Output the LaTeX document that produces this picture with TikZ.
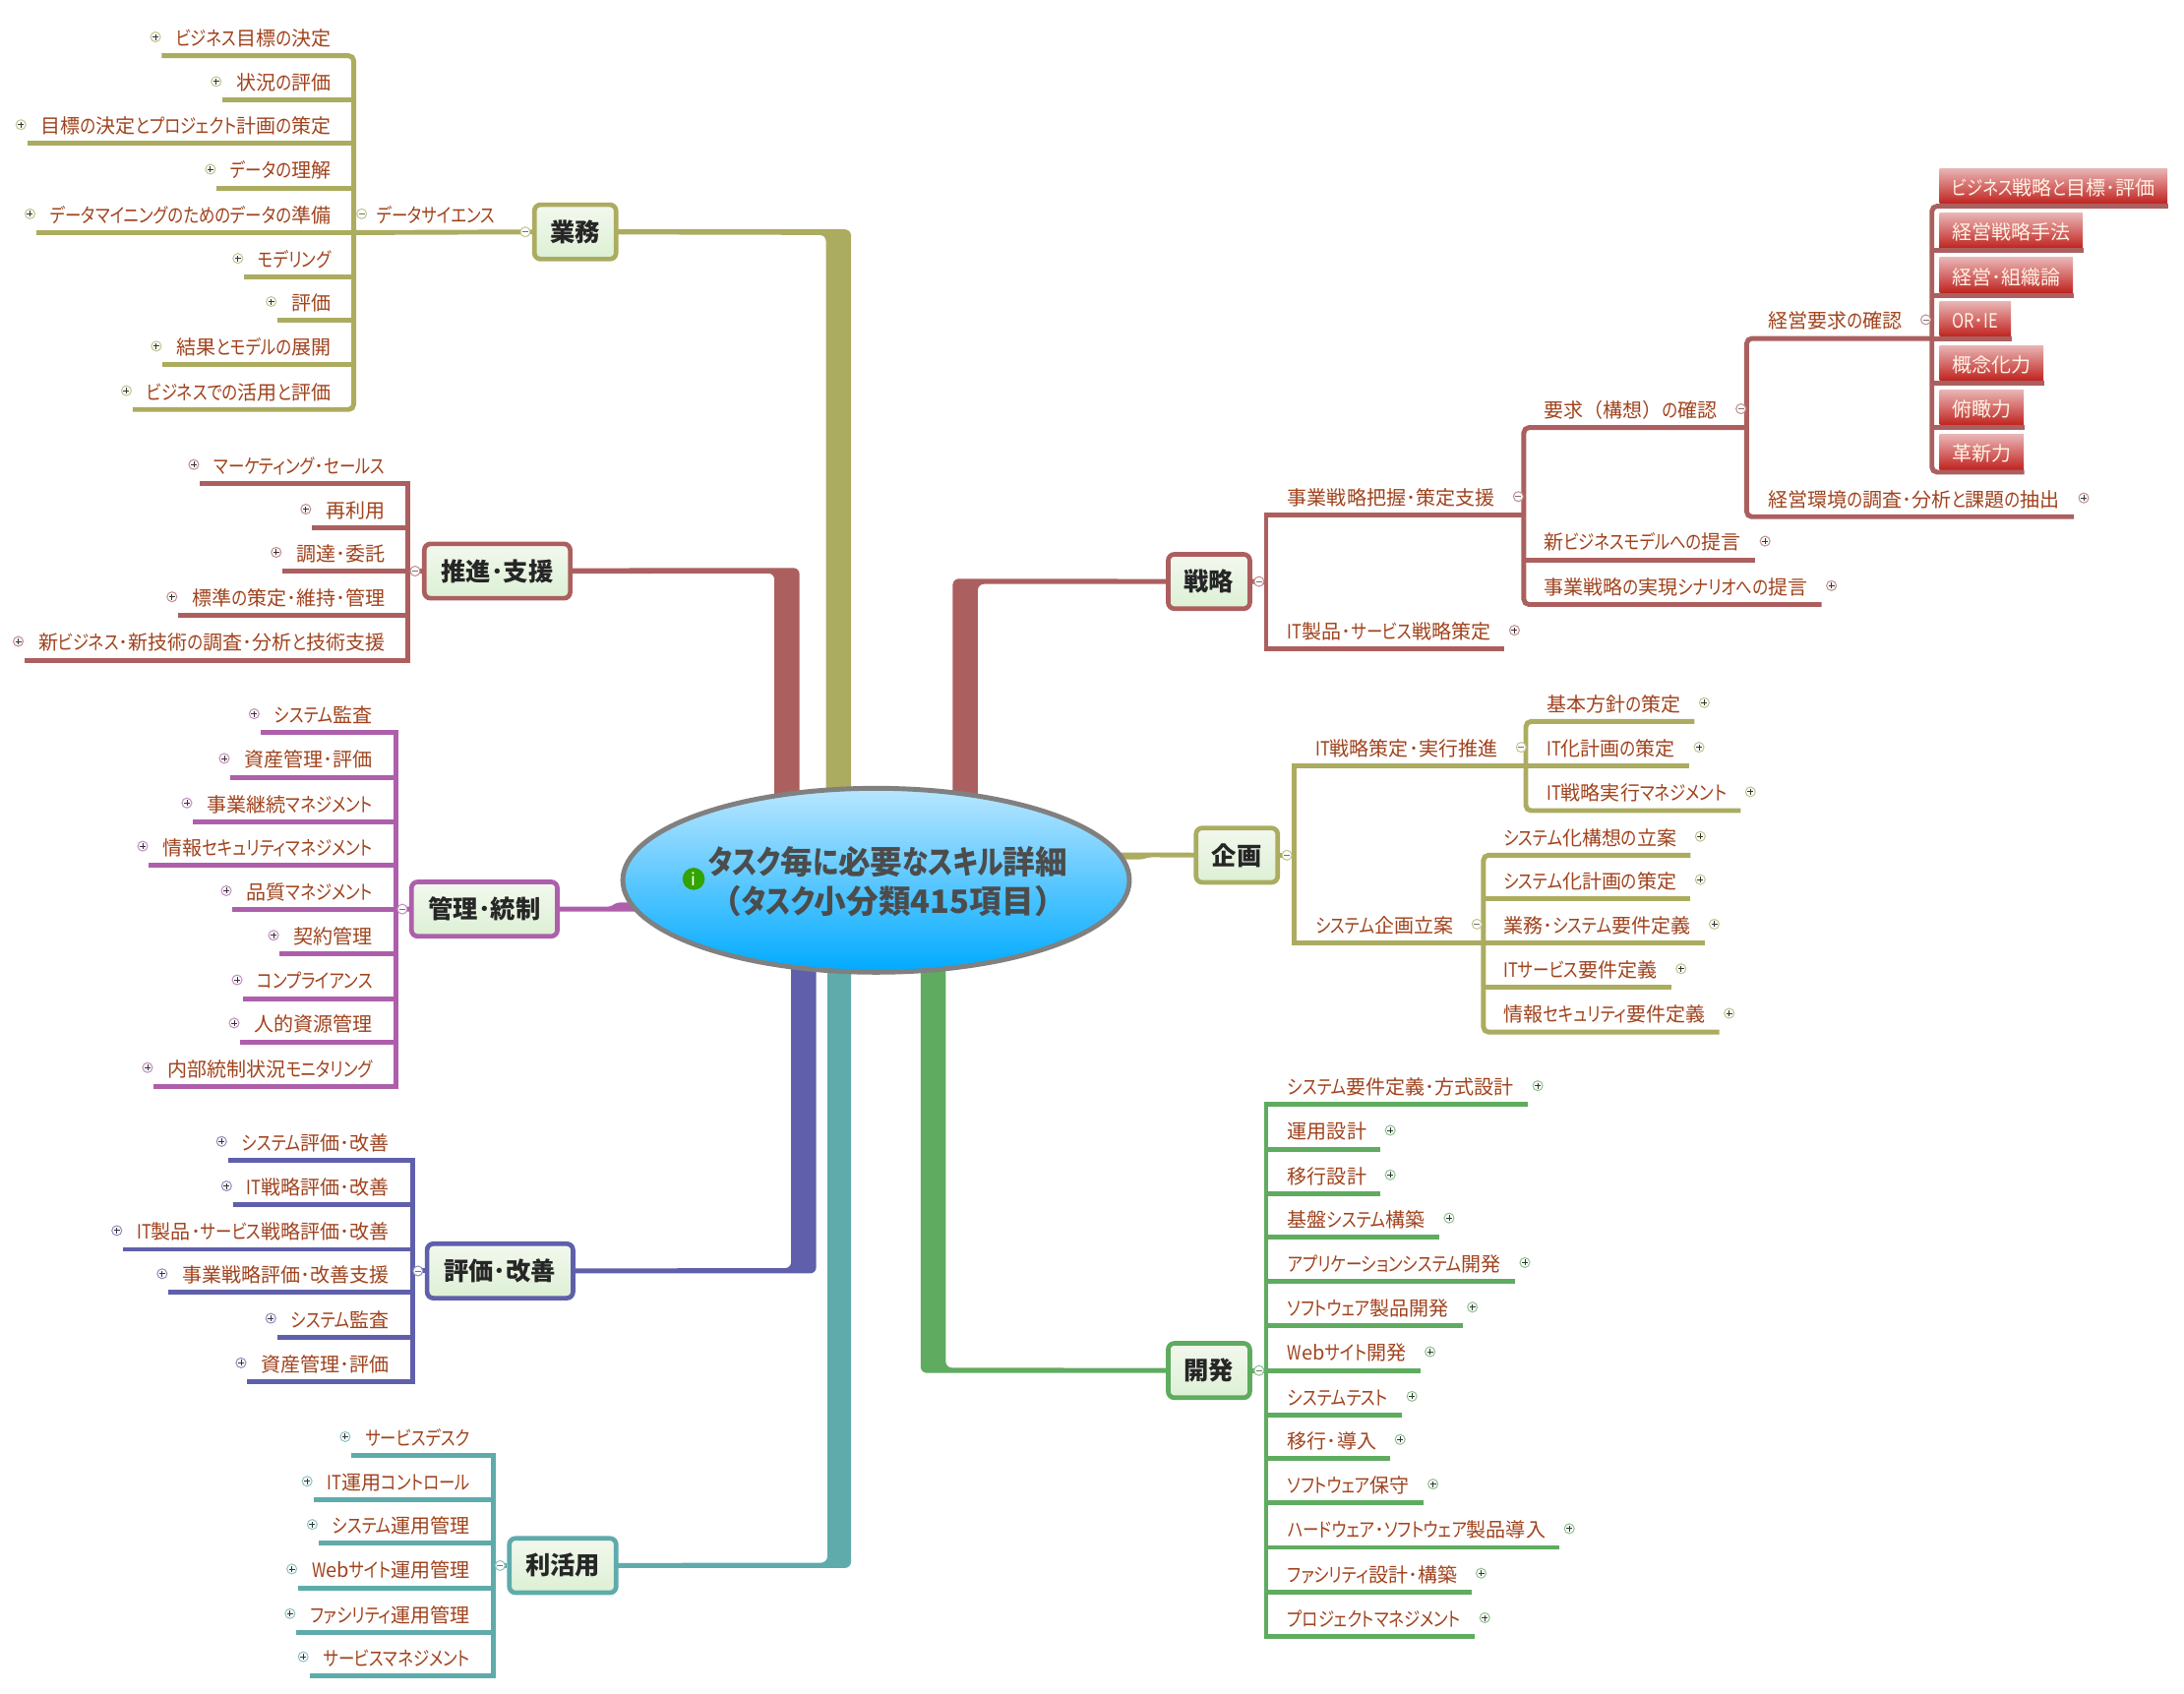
\documentclass[tikz,border=0pt]{standalone}
\usepackage{fontspec}
\setmainfont{Noto Sans CJK JP}
\newfontfamily\kanafam[RawFeature={+palt},FakeStretch=.82]{Noto Sans CJK JP}
\usetikzlibrary{shapes,backgrounds}
\newXeTeXintercharclass\kanaclass
\count255="3041
\loop\ifnum\count255<"30FF \XeTeXcharclass\count255=\kanaclass \advance\count255 by 1 \repeat
\count255="41
\loop\ifnum\count255<"5B \XeTeXcharclass\count255=\kanaclass \advance\count255 by 1 \repeat
\XeTeXinterchartokenstate=1
\XeTeXinterchartoks 0 \kanaclass={\kanafam}
\XeTeXinterchartoks 4095 \kanaclass={\kanafam}
\XeTeXinterchartoks \kanaclass 0={\rmfamily}
\XeTeXinterchartoks \kanaclass 4095={\rmfamily}
\definecolor{olivebr}{HTML}{ABAC5F}
\definecolor{redbr}{HTML}{AC5F5F}
\definecolor{purplebr}{HTML}{AE5FAB}
\definecolor{indigobr}{HTML}{5F5FAB}
\definecolor{tealbr}{HTML}{5FABAB}
\definecolor{greenbr}{HTML}{5FAB5F}
\definecolor{leaftxt}{HTML}{A0421C}
\definecolor{topictop}{HTML}{F3F8EE}
\definecolor{topicbot}{HTML}{DCF0D4}
\definecolor{skytop}{HTML}{B8E6FF}
\definecolor{skybot}{HTML}{00AAFF}
\definecolor{pinktop}{HTML}{E9B4B4}
\definecolor{pinkbot}{HTML}{C02420}
\begin{document}
\begin{tikzpicture}[x=0.014158cm,y=-0.014158cm]
\tikzstyle{every node}+=[inner sep=0pt]
\tikzstyle{leaf}=[text=leaftxt,font=\fontsize{5.7}{7}\selectfont,inner xsep=.1345cm,inner ysep=0pt,text height=.273cm,text depth=.095cm]
\tikzstyle{leafl}=[leaf,anchor=south east,xshift=.014cm]
\tikzstyle{leafr}=[leaf,anchor=south west]
\tikzstyle{lf}=[line width=1.4pt]
\tikzstyle{topic}=[draw,line width=1.33pt,rounded corners=1.8pt,top color=topictop,bottom color=topicbot,minimum width=.83cm,minimum height=.553cm,text=black!85,font=\fontsize{7.2}{8}\selectfont\bfseries]
\tikzstyle{redbox}=[anchor=south west,outer ysep=.028cm,inner xsep=.127cm,minimum height=.354cm,top color=pinktop,bottom color=pinkbot,text=white!90!orange,text height=.22cm,text depth=.03cm,font=\fontsize{5.7}{7}\selectfont]
\tikzstyle{tgl}=[circle,fill=white,minimum size=.1cm,line width=.3pt]
\tikzstyle{tplus}=[tgl,path picture={\draw [black!80,line width=.25pt] ([xshift=-.03cm]path picture bounding box.center) -- ([xshift=.03cm]path picture bounding box.center) ([yshift=-.03cm]path picture bounding box.center) -- ([yshift=.03cm]path picture bounding box.center);}]
\tikzstyle{tminus}=[tgl,path picture={\draw [black!55,line width=.25pt] ([xshift=-.03cm]path picture bounding box.center) -- ([xshift=.03cm]path picture bounding box.center);}]
\useasboundingbox (0,0) rectangle (1568,1215.6);
\node [ellipse,draw=black!50,line width=1.4pt,top color=skytop,bottom color=skybot,minimum width=5.15cm,minimum height=1.87cm] (root) at (629,632) {};
\node [align=center,text=black!70,font=\fontsize{9.3}{11.6}\selectfont\bfseries] (rootl) at (637.5,633) {タスク毎に必要なスキル詳細\\（タスク小分類415項目）};
\node [circle,fill=green!55!black!80!yellow,text=white,minimum size=.226cm,font=\fontsize{5}{6}\selectfont] (rooti) at (498,631) {i};
\node [topic,draw=olivebr] (gyomu) at (413,166.5) {業務};
\node [topic,draw=redbr,minimum width=1.483cm] (suishin) at (357,410) {推進･支援};
\node [topic,draw=purplebr,minimum width=1.483cm] (kanri) at (347.8,652.7) {管理･統制};
\node [topic,draw=indigobr,minimum width=1.483cm] (hyoka) at (359,912.5) {評価･改善};
\node [topic,draw=tealbr,minimum width=1.086cm] (rikatsu) at (404,1124) {利活用};
\node [topic,draw=greenbr] (kaihatsu) at (868,984) {開発};
\node [topic,draw=redbr] (senryaku) at (868,417.5) {戦略};
\node [topic,draw=olivebr] (kikaku) at (888,614) {企画};
\begin{scope}[on background layer]
\fill [olivebr,rounded corners=1.8pt] ([yshift=.025cm]gyomu.center) -- (611,164.7) -- (611,0 |- root) -- (593,0 |- root) -- (593,168.7) -- ([yshift=-.025cm]gyomu.center) -- cycle;
\fill [redbr,rounded corners=1.8pt] ([yshift=.028cm]suishin.center) -- (574,407.7) -- (574,0 |- root) -- (556,0 |- root) -- (556,411.6) -- ([yshift=-.028cm]suishin.center) -- cycle;
\fill [redbr,rounded corners=1.8pt] ([yshift=.025cm]senryaku.center) -- (684,415.5) -- (684,0 |- root) -- (702,0 |- root) -- (702,419.3) -- ([yshift=-.025cm]senryaku.center) -- cycle;
\fill [indigobr,rounded corners=1.8pt] ([yshift=-.025cm]hyoka.center) -- (586,914.3) -- (586,0 |- root) -- (568,0 |- root) -- (568,910.5) -- ([yshift=.025cm]hyoka.center) -- cycle;
\fill [tealbr,rounded corners=1.8pt] ([yshift=-.025cm]rikatsu.center) -- (611,1125.8) -- (611,0 |- root) -- (594,0 |- root) -- (594,1122) -- ([yshift=.025cm]rikatsu.center) -- cycle;
\fill [greenbr,rounded corners=1.8pt] ([yshift=-.025cm]kaihatsu.center) -- (661,985.8) -- (661,0 |- root) -- (679,0 |- root) -- (679,982) -- ([yshift=.025cm]kaihatsu.center) -- cycle;
\fill [purplebr,rounded corners=.8pt] ([yshift=.025cm]kanri.center) -- (438,651) -- (443,648) -- (root.center |- 0,648) -- (root.center |- 0,654.6) -- ([yshift=-.025cm]kanri.center) -- cycle;
\fill [olivebr,rounded corners=.8pt] ([yshift=-.025cm]kikaku.center) -- (825,615.5) -- (820,617) -- (root.center |- 0,617) -- (root.center |- 0,611.8) -- ([yshift=.025cm]kikaku.center) -- cycle;
\end{scope}
\coordinate (gyt) at (254,167);
\node [leafl] (gy1) at (246.5,40) {ビジネス目標の決定};
\node [leafl] (gy2) at (246.5,72) {状況の評価};
\node [leafl] (gy3) at (246.5,103) {目標の決定とプロジェクト計画の策定};
\node [leafl] (gy4) at (246.5,135) {データの理解};
\node [leafl] (gy5) at (246.5,167) {データマイニングのためのデータの準備};
\node [leafl] (gy6) at (246.5,199) {モデリング};
\node [leafl] (gy7) at (246.5,230) {評価};
\node [leafl] (gy8) at (246.5,262) {結果とモデルの展開};
\node [leafl] (gy9) at (246.5,294) {ビジネスでの活用と評価};
\node [leafl] (gyd) at (364.5,167) {データサイエンス};
\draw [lf,olivebr,rounded corners=1.5pt] (gy1.south west) -| (gyt) |- (gy9.south west);
\draw [lf,olivebr] (gy2.south west) -- (gy2.south west -| gyt);
\draw [lf,olivebr] (gy3.south west) -- (gy3.south west -| gyt);
\draw [lf,olivebr] (gy4.south west) -- (gy4.south west -| gyt);
\draw [lf,olivebr] (gy5.south west) -- (gy5.south west -| gyt);
\draw [lf,olivebr] (gy6.south west) -- (gy6.south west -| gyt);
\draw [lf,olivebr] (gy7.south west) -- (gy7.south west -| gyt);
\draw [lf,olivebr] (gy8.south west) -- (gy8.south west -| gyt);
\draw [lf,olivebr] (gyomu.west) -- (gyt);
\node [tplus,draw=olivebr!70] (gy1t) at ([xshift=-.064cm]gy1.west) {};
\node [tplus,draw=olivebr!70] (gy2t) at ([xshift=-.064cm]gy2.west) {};
\node [tplus,draw=olivebr!70] (gy3t) at ([xshift=-.064cm]gy3.west) {};
\node [tplus,draw=olivebr!70] (gy4t) at ([xshift=-.064cm]gy4.west) {};
\node [tplus,draw=olivebr!70] (gy5t) at ([xshift=-.064cm]gy5.west) {};
\node [tplus,draw=olivebr!70] (gy6t) at ([xshift=-.064cm]gy6.west) {};
\node [tplus,draw=olivebr!70] (gy7t) at ([xshift=-.064cm]gy7.west) {};
\node [tplus,draw=olivebr!70] (gy8t) at ([xshift=-.064cm]gy8.west) {};
\node [tplus,draw=olivebr!70] (gy9t) at ([xshift=-.064cm]gy9.west) {};
\node [tminus,draw=olivebr!70] (gydt) at ([xshift=-.01cm]gyd.west) {};
\node [tminus,draw=olivebr!70] (gyot) at ([xshift=-.07cm]gyomu.west) {};
\coordinate (sut) at (293,410);
\node [leafl] (su1) at (285.5,347) {マーケティング･セールス};
\node [leafl] (su2) at (285.5,379) {再利用};
\node [leafl] (su3) at (285.5,410) {調達･委託};
\node [leafl] (su4) at (285.5,442) {標準の策定･維持･管理};
\node [leafl] (su5) at (285.5,474) {新ビジネス･新技術の調査･分析と技術支援};
\draw [lf,redbr] (su1.south west) -| (sut) |- (su5.south west);
\draw [lf,redbr] (su2.south west) -- (su2.south west -| sut);
\draw [lf,redbr] (su3.south west) -- (su3.south west -| sut);
\draw [lf,redbr] (su4.south west) -- (su4.south west -| sut);
\draw [lf,redbr] (suishin.west) -- (sut);
\node [tplus,draw=redbr!70] (su1t) at ([xshift=-.064cm]su1.west) {};
\node [tplus,draw=redbr!70] (su2t) at ([xshift=-.064cm]su2.west) {};
\node [tplus,draw=redbr!70] (su3t) at ([xshift=-.064cm]su3.west) {};
\node [tplus,draw=redbr!70] (su4t) at ([xshift=-.064cm]su4.west) {};
\node [tplus,draw=redbr!70] (su5t) at ([xshift=-.064cm]su5.west) {};
\node [tminus,draw=redbr!70] (suot) at ([xshift=-.07cm]suishin.west) {};
\coordinate (knt) at (284,653);
\node [leafl] (kn1) at (276.5,526) {システム監査};
\node [leafl] (kn2) at (276.5,558) {資産管理･評価};
\node [leafl] (kn3) at (276.5,590) {事業継続マネジメント};
\node [leafl] (kn4) at (276.5,621) {情報セキュリティマネジメント};
\node [leafl] (kn5) at (276.5,653) {品質マネジメント};
\node [leafl] (kn6) at (276.5,685) {契約管理};
\node [leafl] (kn7) at (276.5,717) {コンプライアンス};
\node [leafl] (kn8) at (276.5,748) {人的資源管理};
\node [leafl] (kn9) at (276.5,780) {内部統制状況モニタリング};
\draw [lf,purplebr] (kn1.south west) -| (knt) |- (kn9.south west);
\draw [lf,purplebr] (kn2.south west) -- (kn2.south west -| knt);
\draw [lf,purplebr] (kn3.south west) -- (kn3.south west -| knt);
\draw [lf,purplebr] (kn4.south west) -- (kn4.south west -| knt);
\draw [lf,purplebr] (kn5.south west) -- (kn5.south west -| knt);
\draw [lf,purplebr] (kn6.south west) -- (kn6.south west -| knt);
\draw [lf,purplebr] (kn7.south west) -- (kn7.south west -| knt);
\draw [lf,purplebr] (kn8.south west) -- (kn8.south west -| knt);
\draw [lf,purplebr] (kanri.west) -- (knt);
\node [tplus,draw=purplebr!70] (kn1t) at ([xshift=-.064cm]kn1.west) {};
\node [tplus,draw=purplebr!70] (kn2t) at ([xshift=-.064cm]kn2.west) {};
\node [tplus,draw=purplebr!70] (kn3t) at ([xshift=-.064cm]kn3.west) {};
\node [tplus,draw=purplebr!70] (kn4t) at ([xshift=-.064cm]kn4.west) {};
\node [tplus,draw=purplebr!70] (kn5t) at ([xshift=-.064cm]kn5.west) {};
\node [tplus,draw=purplebr!70] (kn6t) at ([xshift=-.064cm]kn6.west) {};
\node [tplus,draw=purplebr!70] (kn7t) at ([xshift=-.064cm]kn7.west) {};
\node [tplus,draw=purplebr!70] (kn8t) at ([xshift=-.064cm]kn8.west) {};
\node [tplus,draw=purplebr!70] (kn9t) at ([xshift=-.064cm]kn9.west) {};
\node [tminus,draw=purplebr!70] (knot) at ([xshift=-.07cm]kanri.west) {};
\coordinate (hyt) at (296,912.5);
\node [leafl] (hy1) at (288.5,833) {システム評価･改善};
\node [leafl] (hy2) at (288.5,865) {IT戦略評価･改善};
\node [leafl] (hy3) at (288.5,897) {IT製品･サービス戦略評価･改善};
\node [leafl] (hy4) at (288.5,928) {事業戦略評価･改善支援};
\node [leafl] (hy5) at (288.5,960) {システム監査};
\node [leafl] (hy6) at (288.5,992) {資産管理･評価};
\draw [lf,indigobr] (hy1.south west) -| (hyt) |- (hy6.south west);
\draw [lf,indigobr] (hy2.south west) -- (hy2.south west -| hyt);
\draw [lf,indigobr] (hy3.south west) -- (hy3.south west -| hyt);
\draw [lf,indigobr] (hy4.south west) -- (hy4.south west -| hyt);
\draw [lf,indigobr] (hy5.south west) -- (hy5.south west -| hyt);
\draw [lf,indigobr] (hyoka.west) -- (hyt);
\node [tplus,draw=indigobr!70] (hy1t) at ([xshift=-.064cm]hy1.west) {};
\node [tplus,draw=indigobr!70] (hy2t) at ([xshift=-.064cm]hy2.west) {};
\node [tplus,draw=indigobr!70] (hy3t) at ([xshift=-.064cm]hy3.west) {};
\node [tplus,draw=indigobr!70] (hy4t) at ([xshift=-.064cm]hy4.west) {};
\node [tplus,draw=indigobr!70] (hy5t) at ([xshift=-.064cm]hy5.west) {};
\node [tplus,draw=indigobr!70] (hy6t) at ([xshift=-.064cm]hy6.west) {};
\node [tminus,draw=indigobr!70] (hyot) at ([xshift=-.07cm]hyoka.west) {};
\coordinate (rit) at (354,1124);
\node [leafl] (ri1) at (346.5,1045) {サービスデスク};
\node [leafl] (ri2) at (346.5,1077) {IT運用コントロール};
\node [leafl] (ri3) at (346.5,1108) {システム運用管理};
\node [leafl] (ri4) at (346.5,1140) {Webサイト運用管理};
\node [leafl] (ri5) at (346.5,1172) {ファシリティ運用管理};
\node [leafl] (ri6) at (346.5,1203) {サービスマネジメント};
\draw [lf,tealbr] (ri1.south west) -| (rit) |- (ri6.south west);
\draw [lf,tealbr] (ri2.south west) -- (ri2.south west -| rit);
\draw [lf,tealbr] (ri3.south west) -- (ri3.south west -| rit);
\draw [lf,tealbr] (ri4.south west) -- (ri4.south west -| rit);
\draw [lf,tealbr] (ri5.south west) -- (ri5.south west -| rit);
\draw [lf,tealbr] (rikatsu.west) -- (rit);
\node [tplus,draw=tealbr!70] (ri1t) at ([xshift=-.064cm]ri1.west) {};
\node [tplus,draw=tealbr!70] (ri2t) at ([xshift=-.064cm]ri2.west) {};
\node [tplus,draw=tealbr!70] (ri3t) at ([xshift=-.064cm]ri3.west) {};
\node [tplus,draw=tealbr!70] (ri4t) at ([xshift=-.064cm]ri4.west) {};
\node [tplus,draw=tealbr!70] (ri5t) at ([xshift=-.064cm]ri5.west) {};
\node [tplus,draw=tealbr!70] (ri6t) at ([xshift=-.064cm]ri6.west) {};
\node [tminus,draw=tealbr!70] (riot) at ([xshift=-.07cm]rikatsu.west) {};
\coordinate (kht) at (909,984);
\node [leafr] (kh1) at (914.5,793) {システム要件定義･方式設計};
\node [leafr] (kh2) at (914.5,825) {運用設計};
\node [leafr] (kh3) at (914.5,857) {移行設計};
\node [leafr] (kh4) at (914.5,888) {基盤システム構築};
\node [leafr] (kh5) at (914.5,920) {アプリケーションシステム開発};
\node [leafr] (kh6) at (914.5,952) {ソフトウェア製品開発};
\node [leafr] (kh7) at (914.5,984) {Webサイト開発};
\node [leafr] (kh8) at (914.5,1016) {システムテスト};
\node [leafr] (kh9) at (914.5,1047) {移行･導入};
\node [leafr] (kh10) at (914.5,1079) {ソフトウェア保守};
\node [leafr] (kh11) at (914.5,1111) {ハードウェア･ソフトウェア製品導入};
\node [leafr] (kh12) at (914.5,1143) {ファシリティ設計･構築};
\node [leafr] (kh13) at (914.5,1175) {プロジェクトマネジメント};
\draw [lf,greenbr] (kh1.south east) -| (kht) |- (kh13.south east);
\draw [lf,greenbr] (kh2.south east) -- (kh2.south east -| kht);
\draw [lf,greenbr] (kh3.south east) -- (kh3.south east -| kht);
\draw [lf,greenbr] (kh4.south east) -- (kh4.south east -| kht);
\draw [lf,greenbr] (kh5.south east) -- (kh5.south east -| kht);
\draw [lf,greenbr] (kh6.south east) -- (kh6.south east -| kht);
\draw [lf,greenbr] (kh7.south east) -- (kh7.south east -| kht);
\draw [lf,greenbr] (kh8.south east) -- (kh8.south east -| kht);
\draw [lf,greenbr] (kh9.south east) -- (kh9.south east -| kht);
\draw [lf,greenbr] (kh10.south east) -- (kh10.south east -| kht);
\draw [lf,greenbr] (kh11.south east) -- (kh11.south east -| kht);
\draw [lf,greenbr] (kh12.south east) -- (kh12.south east -| kht);
\draw [lf,greenbr] (kaihatsu.east) -- (kht);
\node [tplus,draw=greenbr!70] (kh1t) at ([xshift=.1cm]kh1.east) {};
\node [tplus,draw=greenbr!70] (kh2t) at ([xshift=.1cm]kh2.east) {};
\node [tplus,draw=greenbr!70] (kh3t) at ([xshift=.1cm]kh3.east) {};
\node [tplus,draw=greenbr!70] (kh4t) at ([xshift=.1cm]kh4.east) {};
\node [tplus,draw=greenbr!70] (kh5t) at ([xshift=.1cm]kh5.east) {};
\node [tplus,draw=greenbr!70] (kh6t) at ([xshift=.1cm]kh6.east) {};
\node [tplus,draw=greenbr!70] (kh7t) at ([xshift=.1cm]kh7.east) {};
\node [tplus,draw=greenbr!70] (kh8t) at ([xshift=.1cm]kh8.east) {};
\node [tplus,draw=greenbr!70] (kh9t) at ([xshift=.1cm]kh9.east) {};
\node [tplus,draw=greenbr!70] (kh10t) at ([xshift=.1cm]kh10.east) {};
\node [tplus,draw=greenbr!70] (kh11t) at ([xshift=.1cm]kh11.east) {};
\node [tplus,draw=greenbr!70] (kh12t) at ([xshift=.1cm]kh12.east) {};
\node [tplus,draw=greenbr!70] (kh13t) at ([xshift=.1cm]kh13.east) {};
\node [tminus,draw=greenbr!70] (khot) at ([xshift=.07cm]kaihatsu.east) {};
\coordinate (srt) at (909,418);
\coordinate (srt2) at (1094,370);
\coordinate (srt3) at (1254,307);
\coordinate (srt4) at (1387,243);
\node [leafr] (sr1) at (914.5,370) {事業戦略把握･策定支援};
\node [leafr] (sr2) at (914.5,466) {IT製品･サービス戦略策定};
\node [leafr] (sr3) at (1098.5,307) {要求（構想）の確認};
\node [leafr] (sr4) at (1098.5,402) {新ビジネスモデルへの提言};
\node [leafr] (sr5) at (1098.5,434) {事業戦略の実現シナリオへの提言};
\node [leafr] (sr6) at (1259.5,243) {経営要求の確認};
\node [leafr] (sr7) at (1259.5,371) {経営環境の調査･分析と課題の抽出};
\node [redbox] (rb1) at (1392,148) {ビジネス戦略と目標･評価};
\node [redbox] (rb2) at (1392,180) {経営戦略手法};
\node [redbox] (rb3) at (1392,212) {経営･組織論};
\node [redbox] (rb4) at (1392,243.5) {OR･IE};
\node [redbox] (rb5) at (1392,275) {概念化力};
\node [redbox] (rb6) at (1392,307) {俯瞰力};
\node [redbox] (rb7) at (1392,339) {革新力};
\draw [lf,redbr] (srt2 |- sr1.south) -| (srt) |- (sr2.south east);
\draw [lf,redbr,rounded corners=1.5pt] (srt3 |- sr3.south) -| (srt2) |- (sr5.south east);
\draw [lf,redbr] (sr4.south east) -- (sr4.south east -| srt2);
\draw [lf,redbr,rounded corners=1.5pt] (srt4 |- sr6.south) -| (srt3) |- (sr7.south east);
\draw [lf,redbr,rounded corners=1.5pt] (rb1.south east) -| (srt4) |- (rb7.south east);
\draw [lf,redbr] (rb2.south east) -- (rb2.south east -| srt4);
\draw [lf,redbr] (rb3.south east) -- (rb3.south east -| srt4);
\draw [lf,redbr] (rb4.south east) -- (rb4.south east -| srt4);
\draw [lf,redbr] (rb5.south east) -- (rb5.south east -| srt4);
\draw [lf,redbr] (rb6.south east) -- (rb6.south east -| srt4);
\draw [lf,redbr] (senryaku.east) -- (srt);
\node [tminus,draw=redbr!70] (sr1t) at ([xshift=.1cm]sr1.east) {};
\node [tplus,draw=redbr!70] (sr2t) at ([xshift=.1cm]sr2.east) {};
\node [tminus,draw=redbr!70] (sr3t) at ([xshift=.1cm]sr3.east) {};
\node [tplus,draw=redbr!70] (sr4t) at ([xshift=.1cm]sr4.east) {};
\node [tplus,draw=redbr!70] (sr5t) at ([xshift=.1cm]sr5.east) {};
\node [tminus,draw=redbr!70] (sr6t) at ([xshift=.1cm]sr6.east) {};
\node [tplus,draw=redbr!70] (sr7t) at ([xshift=.1cm]sr7.east) {};
\node [tminus,draw=redbr!70] (srot) at ([xshift=.07cm]senryaku.east) {};
\coordinate (kkt) at (929,614);
\coordinate (kkt2) at (1095.5,550);
\coordinate (kkt3) at (1065,677);
\node [leafr] (kk1) at (934.5,550) {IT戦略策定･実行推進};
\node [leafr] (kk2) at (934.5,677) {システム企画立案};
\node [leafr] (kk3) at (1100.5,518) {基本方針の策定};
\node [leafr] (kk4) at (1100.5,550) {IT化計画の策定};
\node [leafr] (kk5) at (1100.5,582) {IT戦略実行マネジメント};
\node [leafr] (kk6) at (1069.5,614) {システム化構想の立案};
\node [leafr] (kk7) at (1069.5,645) {システム化計画の策定};
\node [leafr] (kk8) at (1069.5,677) {業務･システム要件定義};
\node [leafr] (kk9) at (1069.5,709) {ITサービス要件定義};
\node [leafr] (kk10) at (1069.5,741) {情報セキュリティ要件定義};
\draw [lf,olivebr] (kkt2 |- kk1.south) -| (kkt) |- (kkt3 |- kk2.south);
\draw [lf,olivebr,rounded corners=1.5pt] (kk3.south east) -| (kkt2) |- (kk5.south east);
\draw [lf,olivebr] (kk4.south east) -- (kk4.south east -| kkt2);
\draw [lf,olivebr,rounded corners=1.5pt] (kk6.south east) -| (kkt3) |- (kk10.south east);
\draw [lf,olivebr] (kk7.south east) -- (kk7.south east -| kkt3);
\draw [lf,olivebr] (kk8.south east) -- (kk8.south east -| kkt3);
\draw [lf,olivebr] (kk9.south east) -- (kk9.south east -| kkt3);
\draw [lf,olivebr] (kikaku.east) -- (kkt);
\node [tminus,draw=olivebr!70] (kk1t) at ([xshift=.1cm]kk1.east) {};
\node [tminus,draw=olivebr!70] (kk2t) at ([xshift=.1cm]kk2.east) {};
\node [tplus,draw=olivebr!70] (kk3t) at ([xshift=.1cm]kk3.east) {};
\node [tplus,draw=olivebr!70] (kk4t) at ([xshift=.1cm]kk4.east) {};
\node [tplus,draw=olivebr!70] (kk5t) at ([xshift=.1cm]kk5.east) {};
\node [tplus,draw=olivebr!70] (kk6t) at ([xshift=.1cm]kk6.east) {};
\node [tplus,draw=olivebr!70] (kk7t) at ([xshift=.1cm]kk7.east) {};
\node [tplus,draw=olivebr!70] (kk8t) at ([xshift=.1cm]kk8.east) {};
\node [tplus,draw=olivebr!70] (kk9t) at ([xshift=.1cm]kk9.east) {};
\node [tplus,draw=olivebr!70] (kk10t) at ([xshift=.1cm]kk10.east) {};
\node [tminus,draw=olivebr!70] (kkot) at ([xshift=.07cm]kikaku.east) {};
\end{tikzpicture}
\end{document}
